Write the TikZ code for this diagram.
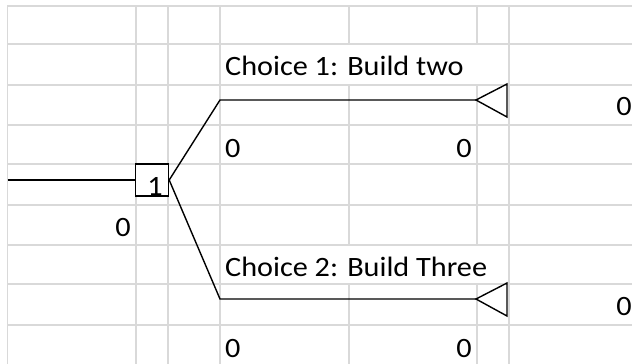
\documentclass[tikz,border=0pt]{standalone}
\usepackage{fontspec}
\setmainfont{Carlito}[FakeStretch=1.08]
\definecolor{gridc}{RGB}{217,217,217}
\begin{document}
\begin{tikzpicture}[x=1pt,y=-1pt,
  gridline/.style={draw=gridc,line width=1.4pt},
  tree/.style={draw=black,line width=1.4pt,line join=miter},
  lbl/.style={inner sep=0pt,font=\fontsize{28}{33}\selectfont},
  decbox/.style={draw=black,line width=1.4pt,fill=white,minimum width=33pt,minimum height=32pt,inner sep=0pt}]
\useasboundingbox (0,0) rectangle (632,364);
\fill[white] (0,0) rectangle (632,364);
% horizontal grid lines
\foreach \y in {6,44,85,125,164,205,245,284,325}
  \draw[gridline] (7,\y) -- (632,\y);
% vertical grid lines
\foreach \x in {7.5,136,168,220,509}
  \draw[gridline] (\x,6) -- (\x,364);
\foreach \x in {349,477}{
  \draw[gridline] (\x,6) -- (\x,44);
  \draw[gridline] (\x,85) -- (\x,245);
  \draw[gridline] (\x,284) -- (\x,364);
}
% decision tree
\coordinate (start) at (7.5,180);
\node[decbox] (dec) at (152,180) {};
\coordinate (b1) at (220,100);
\coordinate (e1) at (476,100);
\coordinate (b2) at (220,299);
\coordinate (e2) at (476,299);
\draw[tree] (start) -- (dec.west);
\draw[tree] (dec.east) -- (b1) -- (e1);
\draw[tree] (dec.east) -- (b2) -- (e2);
\draw[tree] (e1) -- (507,84) -- (507,117) -- cycle;
\draw[tree] (e2) -- (507,283) -- (507,316) -- cycle;
% labels
\node[lbl,anchor=base east] (one) at (163,195) {1};
\node[lbl,anchor=base east] (root) at (131,236) {0};
\node[lbl,anchor=base west] (c1) at (225,75) {Choice 1: Build two};
\node[lbl,anchor=base west] (p1a) at (225,157) {0};
\node[lbl,anchor=base east] (p1b) at (472,157) {0};
\node[lbl,anchor=base east] (v1) at (632,115) {0};
\node[lbl,anchor=base west] (c2) at (225,276) {Choice 2: Build Three};
\node[lbl,anchor=base west] (p2a) at (225,357) {0};
\node[lbl,anchor=base east] (p2b) at (472,357) {0};
\node[lbl,anchor=base east] (v2) at (632,315) {0};
\end{tikzpicture}
\end{document}
